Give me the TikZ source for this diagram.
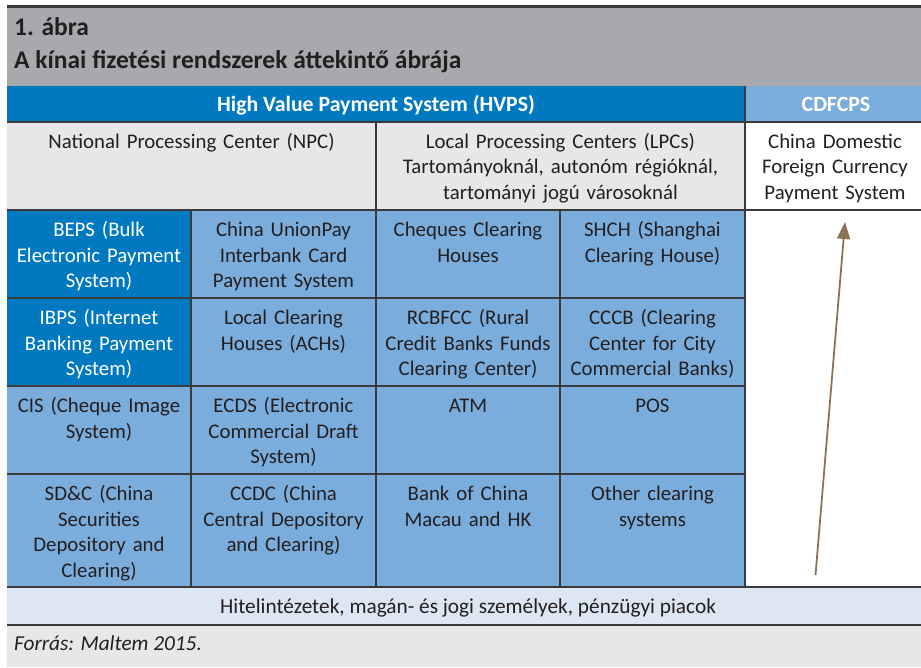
\documentclass[tikz,border=0pt]{standalone}
\usepackage{fontspec}
\setmainfont{Carlito}
\usetikzlibrary{arrows.meta}
\definecolor{dblue}{HTML}{0079C1}
\definecolor{lblue}{HTML}{7BADDC}
\definecolor{hgray}{HTML}{A7A9AC}
\definecolor{lgray}{HTML}{E6E7E8}
\definecolor{pblue}{HTML}{DDE7F3}
\definecolor{txt}{HTML}{231F20}
\definecolor{gridc}{HTML}{3A3A3A}
\definecolor{arrc}{HTML}{8B7356}
\begin{document}
\begin{tikzpicture}[x=1pt,y=-1pt,
  cell/.style={anchor=north, text width=180pt, align=center, inner sep=0pt,
    font=\fontsize{20.8}{25.5}\selectfont, text=txt},
  wcell/.style={cell, text=white},
  gline/.style={draw=gridc, line width=1.6pt},
  hdr/.style={anchor=base, inner sep=0pt, font=\bfseries\fontsize{21.8}{26}\selectfont, text=white},
  ttl/.style={anchor=base west, inner sep=0pt, font=\bfseries\fontsize{25.5}{30}\selectfont, text=txt}]
\useasboundingbox (0,0) rectangle (921,667);
\fill[white] (0,0) rectangle (921,667);
% header
\fill[hgray] (7,7) rectangle (921,86);
\draw[draw=gridc, line width=3pt] (7,6) -- (921,6);
\node[ttl] (fig) at (14,35) {1. ábra};
\node[ttl] (title) at (14,68) {A kínai fizetési rendszerek áttekintő ábrája};
% top bar
\fill[dblue] (7,86) rectangle (745,122);
\fill[lblue] (745,86) rectangle (921,122);
\node[hdr] (hvps) at (376,111) {High Value Payment System (HVPS)};
\node[hdr] (cdfcps) at (836,111) {CDFCPS};
% second row
\fill[lgray] (7,122) rectangle (745,210);
\node[cell, text width=360pt] (npc) at (191.5,130) {\strut National Processing Center (NPC)};
\node[cell, text width=360pt] (lpc) at (560.5,130) {\strut Local Processing Centers (LPCs)\\Tartományoknál, autonóm régióknál,\\tartományi jogú városoknál};
\node[cell] (cdfdesc) at (835,130) {\strut China Domestic\\Foreign Currency\\Payment System};
% grid fills
\fill[lblue] (7,210) rectangle (745,587);
\fill[dblue] (7,210) rectangle (191,386);
\fill[pblue] (7,587) rectangle (921,625);
\fill[lgray] (7,625) rectangle (921,667);
% grid lines
\draw[gline] (7,122) -- (921,122);
\draw[gline] (7,210) -- (921,210);
\foreach \yy in {298,386,474} \draw[gline] (7,\yy) -- (745,\yy);
\draw[gline] (7,587) -- (921,587);
\draw[gline] (7,625) -- (921,625);
\draw[gline] (745,86) -- (745,587);
\draw[gline] (376,122) -- (376,587);
\draw[gline] (191,210) -- (191,587);
\draw[gline] (560,210) -- (560,587);
% row 1
\node[wcell] (beps) at (99,218.5) {\strut BEPS (Bulk\\Electronic Payment\\System)};
\node[cell] (cup) at (283.5,218.5) {\strut China UnionPay\\Interbank Card\\Payment System};
\node[cell] (chq) at (468,218.5) {\strut Cheques Clearing\\Houses};
\node[cell] (shch) at (652.5,218.5) {\strut SHCH (Shanghai\\Clearing House)};
% row 2
\node[wcell] (ibps) at (99,306.5) {\strut IBPS (Internet\\Banking Payment\\System)};
\node[cell] (ach) at (283.5,306.5) {\strut Local Clearing\\Houses (ACHs)};
\node[cell] (rcb) at (468,306.5) {\strut RCBFCC (Rural\\Credit Banks Funds\\Clearing Center)};
\node[cell] (cccb) at (652.5,306.5) {\strut CCCB (Clearing\\Center for City\\Commercial Banks)};
% row 3
\node[cell] (cis) at (99,394.5) {\strut CIS (Cheque Image\\System)};
\node[cell] (ecds) at (283.5,394.5) {\strut ECDS (Electronic\\Commercial Draft\\System)};
\node[cell] (atm) at (468,394.5) {\strut ATM};
\node[cell] (pos) at (652.5,394.5) {\strut POS};
% row 4
\node[cell] (sdc) at (99,482.5) {\strut SD\&C (China\\Securities\\Depository and\\Clearing)};
\node[cell] (ccdc) at (283.5,482.5) {\strut CCDC (China\\Central Depository\\and Clearing)};
\node[cell] (boc) at (468,482.5) {\strut Bank of China\\Macau and HK};
\node[cell] (oth) at (652.5,482.5) {\strut Other clearing\\systems};
% bottom
\node[anchor=base, inner sep=0pt, font=\fontsize{21.3}{25}\selectfont, text=txt] (inst) at (468,613) {Hitelintézetek, magán- és jogi személyek, pénzügyi piacok};
\node[anchor=base west, inner sep=0pt, font=\itshape\fontsize{21.3}{25}\selectfont, text=txt] (src) at (14,650) {Forrás: Maltem 2015.};
% arrow
\coordinate (arrS) at (815.5,575);
\coordinate (arrE) at (845,222);
\draw[arrc, line width=1.8pt, -{Triangle[length=17pt,width=13pt]}] (arrS) -- (arrE);
\end{tikzpicture}
\end{document}
